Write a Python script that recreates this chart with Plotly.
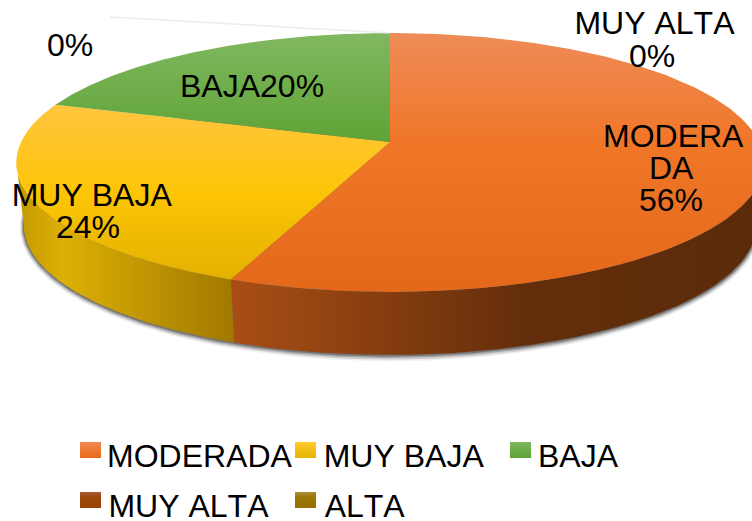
import numpy as np
import plotly.graph_objects as go

categories = ["MODERADA", "MUY BAJA", "BAJA", "MUY ALTA", "ALTA"]
values = [56, 24, 20, 0, 0]

W, H = 752, 521
CX, CY = 390, 142          # pie centre on the top face
A, B, K = 126.2, 369, 0.158  # perspective projection of the disc
DEPTH, SHRINK = 63, 0.98   # extrusion of the lower rim
FONT = dict(family="Liberation Sans", size=32, color="#000000")

top_scales = {
    "MODERADA": [[0, "#EE8C58"], [0.42, "#F07628"], [1, "#E3681A"]],
    "MUY BAJA": [[0, "#FFC540"], [0.5, "#FDC505"], [1, "#E2B000"]],
    "BAJA": [[0, "#80B860"], [1, "#5FA336"]],
}
side_scales = {
    "MODERADA": ([[0, "#A84E14"], [0.25, "#8A3F10"], [0.55, "#642E0B"], [1, "#5A2B0A"]], 232, 764),
    "MUY BAJA": ([[0, "#C49A00"], [0.2, "#DDB005"], [1, "#A07800"]], 20, 235),
}
swatch_scales = {
    "MODERADA": [[0, "#F08A50"], [1, "#E9691A"]],
    "MUY BAJA": [[0, "#FFCB30"], [1, "#E6B400"]],
    "BAJA": [[0, "#7DB65C"], [1, "#5FA336"]],
    "MUY ALTA": [[0, "#A85C38"], [0.3, "#9E4A10"], [1, "#9A4200"]],
    "ALTA": [[0, "#AE8C40"], [0.3, "#9C7808"], [1, "#967000"]],
}
swatch_pos = {"MODERADA": (80, 442), "MUY BAJA": (295, 442), "BAJA": (510, 442),
              "MUY ALTA": (80, 492), "ALTA": (295, 492)}
legend_text_x = {"MODERADA": 105, "MUY BAJA": 322, "BAJA": 536, "MUY ALTA": 110, "ALTA": 325}
labels = [("MUY ALTA", 655, 23), ("0%", 652, 56), ("MODERA", 673, 136), ("DA", 671, 168),
          ("56%", 671, 200), ("MUY BAJA", 92, 195), ("24%", 88, 227), ("BAJA20%", 252, 86), ("0%", 70, 45)]


def rim(theta, sx=1.0, dy=0.0, grow=0.0):
    """theta: clockwise from 12 o'clock, radians."""
    u, v = np.sin(theta), np.cos(theta)
    d = 1 + K * v
    return CX + (B * sx + grow) * u / d, CY - (A + grow) * v / d + dy


fig = go.Figure()


def poly(x, y, **kw):
    fig.add_trace(go.Scatter(x=list(x), y=list(y), mode="lines", fill="toself",
                             line=dict(width=0), hoverinfo="skip", showlegend=False, **kw))


# soft shadow below the disc
full = np.linspace(0, 2 * np.pi, 361)
for g, a in [(4, 0.08), (3, 0.16), (2, 0.28), (1, 0.42)]:
    x, y = rim(full, SHRINK, DEPTH + g * 0.4, g)
    poly(x, y, fillcolor=f"rgba(50,50,50,{a})")

# slice angles from the values
edges = np.cumsum([0] + values) / sum(values) * 2 * np.pi
VIS_START = np.radians(99.0)
VIS_END = np.radians(261.0)

# side walls
for name, a0, a1 in zip(categories, edges[:-1], edges[1:]):
    if name not in side_scales or a1 <= a0:
        continue
    cs, x0, x1 = side_scales[name]
    t = np.linspace(max(a0, VIS_START), min(a1, VIS_END), 120)
    xt, yt = rim(t)
    xb, yb = rim(t[::-1], SHRINK, DEPTH)
    poly(np.r_[xt, xb], np.r_[yt, yb],
         fillcolor="rgba(0,0,0,0)",
         fillgradient=dict(type="horizontal", colorscale=cs, start=x0, stop=x1))

# top face
for name, a0, a1 in zip(categories, edges[:-1], edges[1:]):
    if a1 <= a0:
        continue
    t = np.linspace(a0, a1, 240)
    xr, yr = rim(t)
    y_start, y_stop = (33, 292) if name == "MODERADA" else ((105, 282) if name == "MUY BAJA" else (33, 142))
    poly(np.r_[CX, xr, CX], np.r_[CY, yr, CY],
         fillcolor="rgba(0,0,0,0)",
         fillgradient=dict(type="vertical", colorscale=top_scales[name], start=y_start, stop=y_stop))

# faint leader of the zero slice
x_lead, y_lead = rim(np.array([edges[3]]) - 1e-6)
fig.add_trace(go.Scatter(x=[110, float(x_lead[0])], y=[17, float(y_lead[0])], mode="lines",
                         line=dict(color="#ECECEC", width=1.5), hoverinfo="skip", showlegend=False))

# legend
for name in categories:
    sx, sy = swatch_pos[name]
    poly([sx, sx + 21, sx + 21, sx, sx], [sy, sy, sy + 16, sy + 16, sy],
         fillcolor="rgba(0,0,0,0)",
         fillgradient=dict(type="vertical", colorscale=swatch_scales[name], start=sy, stop=sy + 16))
    fig.add_annotation(x=legend_text_x[name], y=sy + 14, text=name, showarrow=False,
                       xanchor="left", yanchor="middle", font=FONT)

for text, x, y in labels:
    fig.add_annotation(x=x, y=y, text=text, showarrow=False, xanchor="center", yanchor="middle", font=FONT)

fig.update_layout(
    width=W, height=H, margin=dict(l=0, r=0, t=0, b=0),
    paper_bgcolor="#FFFFFF", plot_bgcolor="#FFFFFF", showlegend=False,
    xaxis=dict(range=[0, W], visible=False, fixedrange=True),
    yaxis=dict(range=[H, 0], visible=False, fixedrange=True),
)
post = (
    "document.body.style.margin='0';"
    "document.documentElement.style.overflow='hidden';"
    "var s=document.createElement('style');"
    "s.textContent='text{font-kerning:none !important;}';"
    "document.head.appendChild(s);"
    "window.dispatchEvent(new Event('resize'));"
)
fig.write_html("out.html", config=dict(displayModeBar=False), post_script=post)
